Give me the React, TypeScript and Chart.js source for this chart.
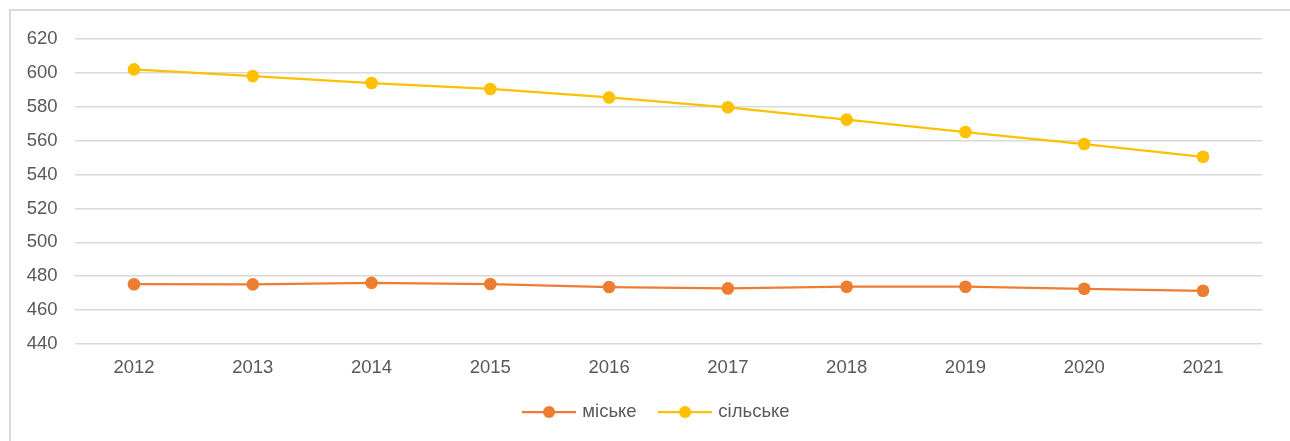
import React, { useEffect, useRef } from "react";
import { Chart, registerables } from "chart.js";

Chart.register(...registerables);

const years = ["2012", "2013", "2014", "2015", "2016", "2017", "2018", "2019", "2020", "2021"];
const urban = [475.3, 475.2, 476.1, 475.4, 473.6, 472.8, 473.8, 473.8, 472.6, 471.4];
const rural = [602.1, 598.1, 594.0, 590.5, 585.5, 579.7, 572.4, 565.1, 558.0, 550.5];
const seriesNames = ["міське", "сільське"];
const seriesColors = ["#ED7D31", "#FFC000"];

const FONT = "'Liberation Sans', Arial, sans-serif";
const TEXT = "#595959";

function legendIcon(color: string): HTMLCanvasElement {
  const c = document.createElement("canvas");
  c.width = 54;
  c.height = 14;
  const ctx = c.getContext("2d")!;
  ctx.strokeStyle = color;
  ctx.lineWidth = 2.25;
  ctx.beginPath();
  ctx.moveTo(0, 7);
  ctx.lineTo(54, 7);
  ctx.stroke();
  ctx.fillStyle = color;
  ctx.beginPath();
  ctx.arc(27, 7, 6, 0, Math.PI * 2);
  ctx.fill();
  return c;
}

const legendShift = {
  id: "legendShift",
  afterLayout(chart: any) {
    if (chart.legend) chart.legend.left += 52.3;
  },
};

export default function App() {
  const ref = useRef<HTMLCanvasElement | null>(null);

  useEffect(() => {
    if (!ref.current) return;
    const icons = seriesColors.map(legendIcon);
    const chart = new Chart(ref.current, {
      type: "line",
      data: {
        labels: years,
        datasets: [urban, rural].map((d, i) => ({
          label: seriesNames[i],
          data: d,
          borderColor: seriesColors[i],
          backgroundColor: seriesColors[i],
          borderWidth: 2.25,
          pointRadius: 6.3,
          pointBorderWidth: 0,
          pointHoverRadius: 6.3,
          tension: 0,
        })),
      },
      plugins: [legendShift],
      options: {
        animation: false,
        responsive: false,
        layout: { padding: { left: 0, right: 27.6, top: 39, bottom: 9.75 } },
        plugins: {
          tooltip: { enabled: false },
          legend: {
            position: "bottom",
            labels: {
              usePointStyle: true,
              pointStyleWidth: 48,
              boxHeight: 14,
              padding: 24.5,
              color: TEXT,
              font: { family: FONT, size: 18.5 },
              generateLabels: (ch: any) =>
                ch.data.datasets.map((ds: any, i: number) => ({
                  text: ds.label,
                  fillStyle: seriesColors[i],
                  strokeStyle: seriesColors[i],
                  lineWidth: 0,
                  pointStyle: icons[i],
                  hidden: false,
                  datasetIndex: i,
                  fontColor: TEXT,
                })),
            },
          },
        },
        scales: {
          x: {
            offset: true,
            afterFit: (s: any) => {
              s.height = 34.25;
            },
            grid: { display: false, drawTicks: false },
            border: { display: false },
            ticks: { color: TEXT, font: { family: FONT, size: 18.5 }, padding: 13, maxRotation: 0 },
          },
          y: {
            min: 440,
            max: 620,
            afterFit: (s: any) => {
              s.width = 74.6;
            },
            grid: { color: "#d9d9d9", lineWidth: 1.5, drawTicks: false },
            border: { display: false },
            ticks: { stepSize: 20, color: TEXT, font: { family: FONT, size: 18.5 }, padding: 17 },
          },
        },
      },
    });
    return () => chart.destroy();
  }, []);

  return (
    <div>
      <div
        style={{
          position: "fixed",
          left: 9,
          top: 9,
          width: 1320,
          height: 500,
          border: "2px solid #d9d9d9",
          boxSizing: "border-box",
        }}
      />
      <canvas
        ref={ref}
        width={1290}
        height={441}
        style={{ position: "fixed", left: 0, top: 0, width: 1290, height: 441 }}
      />
    </div>
  );
}
